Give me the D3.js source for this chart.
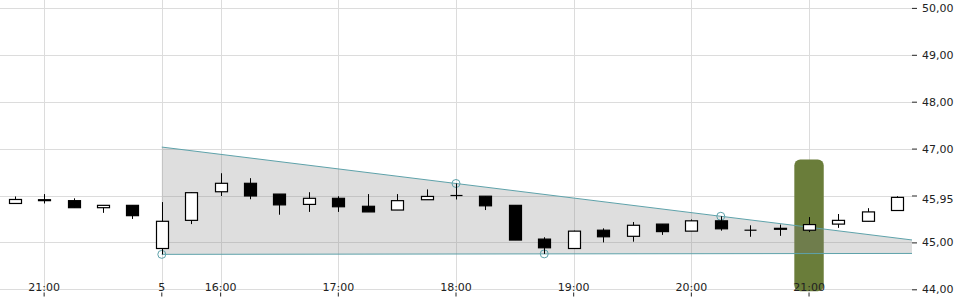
<!DOCTYPE html>
<html>
<head>
<meta charset="utf-8">
<script src="https://cdn.jsdelivr.net/npm/d3@7"></script>
<style>
  html, body { margin: 0; padding: 0; background: #fff; }
  svg { display: block; font-family: "DejaVu Sans", sans-serif; }
</style>
</head>
<body>
<svg id="chart" width="960" height="300"></svg>
<script>
// ---- data ----
const times  = ["20:45","21:00","21:15","21:30","21:45","15:30","15:45","16:00","16:15","16:30","16:45",
                "17:00","17:15","17:30","17:45","18:00","18:15","18:30","18:45","19:00","19:15","19:30",
                "19:45","20:00","20:15","20:30","20:45","21:00","21:15","21:30","21:45"];
const opens  = [45.83,45.91,45.89,45.74,45.79,44.87,45.47,46.08,46.26,46.03,45.81,45.94,45.77,45.69,45.91,45.995,
                45.985,45.79,45.07,44.87,45.26,45.13,45.39,45.24,45.46,45.26,45.30,45.26,45.39,45.45,45.68];
const highs  = [45.98,46.03,45.94,45.79,45.79,45.86,46.07,46.475,46.37,46.03,46.07,45.985,46.03,46.03,46.13,46.256,
                45.985,45.79,45.11,45.25,45.30,45.435,45.39,45.49,45.557,45.365,45.38,45.54,45.605,45.73,45.985];
const lows   = [45.83,45.83,45.74,45.63,45.50,44.745,45.39,45.99,45.92,45.59,45.65,45.65,45.65,45.69,45.91,45.915,
                45.69,45.05,44.755,44.87,45.00,45.015,45.16,45.24,45.25,45.12,45.14,45.22,45.31,45.45,45.68];
const closes = [45.915,45.89,45.74,45.79,45.57,45.45,46.06,46.26,45.99,45.80,45.94,45.76,45.65,45.89,45.98,46.00,
                45.78,45.05,44.885,45.24,45.12,45.365,45.23,45.46,45.29,45.26,45.28,45.38,45.47,45.65,45.96];

const xTickIndex  = [1, 5, 7, 11, 15, 19, 23, 27];
const xTickLabels = ["21:00","5","16:00","17:00","18:00","19:00","20:00","21:00"];
const yTickValues = [44, 45, 46, 47, 48, 49, 50];
const yTickLabels = ["44,00","45,00","45,95","47,00","48,00","49,00","50,00"];

const resistancePivots = [15, 24];   // highs
const supportPivots    = [5, 18];    // lows
const channelStart     = 5;
const highlightIndex   = 27;
const highlightTop     = 46.77;

// ---- layout ----
const W = 912, plotBottom = 289.3;
const svg = d3.select("#chart");

const x = d3.scaleBand().domain(d3.range(times.length)).range([0, W]).padding(0);
const bw = x.bandwidth();
const cx = i => x(i) + bw / 2;
const y = d3.scaleLinear().domain([44, 50]).range([plotBottom, 7.9]);

// grid
const grid = svg.append("g").attr("stroke", "#dcdcdc").attr("stroke-width", 1);
yTickValues.forEach(v => {
  grid.append("line").attr("x1", 0).attr("x2", W)
    .attr("y1", Math.round(y(v)) + 0.5).attr("y2", Math.round(y(v)) + 0.5);
});
xTickIndex.forEach(i => {
  grid.append("line").attr("x1", Math.round(cx(i)) + 0.5).attr("x2", Math.round(cx(i)) + 0.5)
    .attr("y1", 0).attr("y2", plotBottom);
});

// highlight bar
svg.append("rect")
  .attr("x", x(highlightIndex)).attr("width", bw)
  .attr("y", y(highlightTop)).attr("height", plotBottom + 2 - y(highlightTop))
  .attr("rx", 6).attr("ry", 6)
  .attr("fill", "#6a7d3a");

// trend channel
const xEnd = (W / bw) - 0.5; // index at right edge
function lineThrough(pIdx, vals) {
  const [a, b] = pIdx;
  const slope = (vals[b] - vals[a]) / (b - a);
  return t => vals[a] + slope * (t - a);
}
const res = lineThrough(resistancePivots, highs);
const sup = lineThrough(supportPivots, lows);
const tx = t => cx(0) + t * bw;

const poly = [
  [tx(channelStart), y(res(channelStart))],
  [W, y(res(xEnd))],
  [W, y(sup(xEnd))],
  [tx(channelStart), y(sup(channelStart))]
];
svg.append("path").attr("d", d3.line()(poly) + "Z")
  .attr("fill", "rgba(128,128,128,0.26)");

const lineColor = "#5ea2aa";
svg.append("line")
  .attr("x1", tx(channelStart)).attr("y1", y(res(channelStart)))
  .attr("x2", W).attr("y2", y(res(xEnd)))
  .attr("stroke", lineColor).attr("stroke-width", 1);
svg.append("line")
  .attr("x1", tx(channelStart)).attr("y1", y(sup(channelStart)))
  .attr("x2", W).attr("y2", y(sup(xEnd)))
  .attr("stroke", lineColor).attr("stroke-width", 1);

// pivot circles
const pivots = resistancePivots.map(i => [cx(i), y(highs[i])])
  .concat(supportPivots.map(i => [cx(i), y(lows[i])]));
svg.selectAll("circle.pv").data(pivots).join("circle")
  .attr("class", "pv").attr("cx", d => d[0]).attr("cy", d => d[1]).attr("r", 4)
  .attr("fill", "none").attr("stroke", lineColor).attr("stroke-width", 1);

// candles
const candles = svg.append("g");
const bodyW = 12;
times.forEach((t, i) => {
  const c = Math.round(cx(i)) + 0.5;
  const g = candles.append("g");
  g.append("line").attr("x1", c).attr("x2", c)
    .attr("y1", y(highs[i])).attr("y2", y(lows[i]))
    .attr("stroke", "#000").attr("stroke-width", 1);
  const top = y(Math.max(opens[i], closes[i]));
  const bot = y(Math.min(opens[i], closes[i]));
  const up = closes[i] >= opens[i];
  if (bot - top < 0.5) {
    g.append("line")
      .attr("x1", c - bodyW / 2).attr("x2", c + bodyW / 2)
      .attr("y1", top).attr("y2", top)
      .attr("stroke", "#000").attr("stroke-width", 1.2);
  } else {
    g.append("rect")
      .attr("x", c - bodyW / 2).attr("width", bodyW)
      .attr("y", top).attr("height", bot - top)
      .attr("fill", up ? "#fff" : "#000")
      .attr("stroke", "#000").attr("stroke-width", 1.2);
  }
});

// right axis
const yAxis = d3.axisRight(y).tickValues(yTickValues)
  .tickFormat((d, i) => yTickLabels[i]).tickSizeInner(5).tickSizeOuter(0).tickPadding(5);
const ya = svg.append("g").attr("transform", `translate(${W},0)`).call(yAxis);
ya.select(".domain").remove();
ya.selectAll("text").attr("font-size", 11).attr("font-family", "DejaVu Sans").attr("fill", "#222")
  .attr("dy", (d, i) => yTickLabels[i] === "45,95" ? "0.68em" : "0.32em");
ya.selectAll("line").attr("stroke", "#222");

// bottom axis
const xAxis = d3.axisBottom(x).tickValues(xTickIndex)
  .tickFormat((d, i) => xTickLabels[i]).tickSizeInner(4).tickSizeOuter(0).tickPadding(0);
const xa = svg.append("g").attr("transform", "translate(0,292.5)").call(xAxis);
xa.select(".domain").remove();
xa.selectAll("line").attr("stroke", "#222");
xa.selectAll("text").attr("font-size", 11).attr("font-family", "DejaVu Sans").attr("fill", "#222")
  .attr("y", -1.5).attr("dy", 0);
</script>
</body>
</html>
